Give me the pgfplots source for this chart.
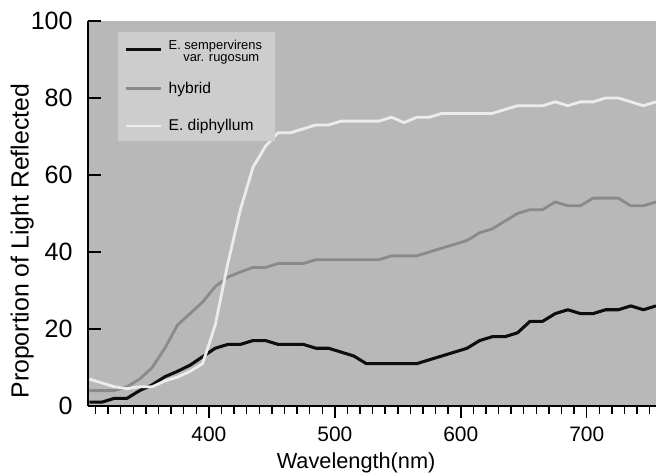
\documentclass[border=0pt]{standalone}
\usepackage{pgfplots}
\pgfplotsset{compat=1.18}
\usepackage{pgfplotstable}
\usepackage{fontspec}
\setmainfont{Liberation Sans}
\definecolor{bggray}{HTML}{B8B8B8}
\definecolor{leggray}{HTML}{CDCDCD}
\definecolor{hybgray}{HTML}{8A8A8A}
\definecolor{dipwhite}{HTML}{ECECEC}
\definecolor{sempblack}{HTML}{0D0D0D}
\pgfplotstableread{
x black hybrid white
305 1 4 7
315 1 4 6
325 2 4 5
335 2 5 4.5
345 4 7 5
355 5.5 10 5
365 7.6 15 6.5
375 9 21 7.5
385 10.6 24 9
395 12.8 27 11
405 15 31 21
415 16 33.5 37
425 16 34.8 51
435 17 36 62
445 17 36 67.5
455 16 37 71
465 16 37 71
475 16 37 72
485 15 38 73
495 15 38 73
505 14 38 74
515 13 38 74
525 11 38 74
535 11 38 74
545 11 39 75
555 11 39 73.6
565 11 39 75
575 12 40 75
585 13 41 76
595 14 42 76
605 15 43 76
615 17 45 76
625 18 46 76
635 18 48 77
645 19 50 78
655 22 51 78
665 22 51 78
675 24 53 79
685 25 52 78
695 24 52 79
705 24 54 79
715 25 54 80
725 25 54 80
735 26 52 79
745 25 52 78
755 26 53 79
}\datatable
\begin{document}
\begin{tikzpicture}
\begin{axis}[
  scale only axis,
  width=426pt, height=288.75pt,
  xmin=304, xmax=755, ymin=0, ymax=100,
  axis x line=bottom, axis y line=left,
  axis line style={-, line width=1.4pt, black},
  axis background/.style={fill=bggray},
  tick align=inside,
  xtick={400,500,600,700},
  minor xtick={310,320,...,750},
  ytick={0,20,...,100},
  major tick length=10pt,
  minor tick length=6pt,
  major x tick style={line width=1.1pt, black, yshift=-9pt},
  minor x tick style={line width=1.1pt, black, yshift=-6pt},
  y tick style={line width=1.3pt, black},
  /pgf/number format/assume math mode=true,
  xticklabel style={font=\fontsize{15.7}{18}\selectfont, anchor=center, yshift=-21pt},
  yticklabel style={font=\fontsize{18.8}{22}\selectfont, anchor=east, xshift=-8pt},
  xlabel={Wavelength(nm)},
  xlabel style={font=\fontsize{16.3}{19}\selectfont, at={(axis description cs:0.472,-0.148)}, anchor=center},
  ylabel={Proportion of Light Reflected},
  ylabel style={font=\fontsize{18.6}{21}\selectfont, at={(axis description cs:-0.116,0.428)}, anchor=center, rotate=0},
  legend style={at={(axis description cs:0.0528,0.971)}, anchor=north west,
    fill=leggray, draw=none, font=\fontsize{11.7}{13}\selectfont,
    row sep=14pt, inner xsep=5pt, inner ysep=4pt,
    nodes={inner xsep=4.5pt}},
  legend cell align=left,
  legend image code/.code={\draw[#1] (0pt,0pt) -- (26pt,0pt);},
]
\addplot[sempblack, line width=2.3pt, line join=round] table[x=x, y=black] {\datatable};
\addlegendentry{\fontsize{9.7}{8.8}\selectfont\begin{tabular}{@{}l@{}}E. sempervirens\\\hspace{11pt}var. rugosum\end{tabular}}
\addplot[hybgray, line width=2.1pt, line join=round] table[x=x, y=hybrid] {\datatable};
\addlegendentry{hybrid}
\addplot[dipwhite, line width=2.1pt, line join=round] table[x=x, y=white] {\datatable};
\addlegendentry{E. diphyllum}
\end{axis}
\pgfresetboundingbox
\path[use as bounding box] (current axis.south west) ++(-66pt,-51.75pt) rectangle ++(492pt,356.25pt);
\end{tikzpicture}
\end{document}
